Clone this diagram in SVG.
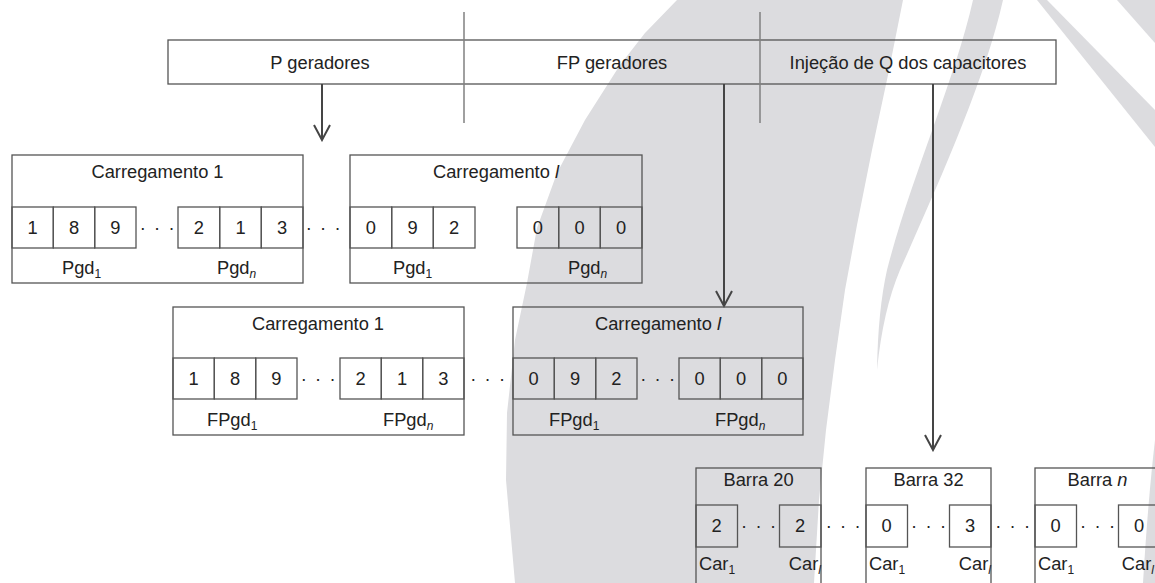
<svg xmlns="http://www.w3.org/2000/svg" width="1155" height="583" viewBox="0 0 1155 583">
  <style>
    .bg { fill: #dcdcdf; stroke: none; }
    .bx { fill: none; stroke: #555; stroke-width: 1.3; }
    .dv { stroke: #808080; stroke-width: 1.5; }
    .ar { fill: none; stroke: #454545; stroke-width: 2; marker-end: url(#v); }
    text { font-family: "Liberation Sans", Arial, sans-serif; font-size: 18.3px; fill: #222; }
    .c { text-anchor: middle; }
    .e { text-anchor: end; }
    .dots { letter-spacing: 1.65px; }
    .sub { font-size: 12px; }
    .it { font-style: italic; }
  </style>
  <defs>
    <marker id="v" viewBox="-17 -10 19 20" refX="0" refY="0" markerWidth="19" markerHeight="20" orient="auto" markerUnits="userSpaceOnUse">
      <path d="M-15,-8 L0,0 L-15,8" fill="none" stroke="#454545" stroke-width="2"/>
    </marker>
  </defs>

  <rect width="1155" height="583" fill="#fff"/>

  <!-- background swooshes -->
  <g id="background">
    <path class="bg" d="M677,0 L903,0 L888,75 L872,150 L857,225 L845,290 L835,360 L826,430 L819,500 L814,583 L515,583 L506,480 L507,413 L515,340 L527,283 L537,228 L557,173 L585,120 L620,65 L645,33 Z"/>
    <path class="bg" d="M973,0 L1003,0 C985,80 940,180 900,270 Q883,310 877,370 Q878,310 887,270 C910,180 955,80 973,0 Z"/>
    <path class="bg" d="M1037,0 L1047,0 L1155,110 L1155,147 Z"/>
    <path class="bg" d="M1117,0 L1155,0 L1155,43 Z"/>
    <path class="bg" d="M1155,440 L1155,583 L1143,583 Q1148,500 1155,440 Z"/>
  </g>

  <!-- header bar with the three variable groups -->
  <g id="header">
    <rect class="bx" x="168" y="40" width="888" height="44"/>
    <line class="dv" x1="464" y1="12" x2="464" y2="123"/>
    <line class="dv" x1="760" y1="12" x2="760" y2="123"/>
    <text class="c" x="320" y="69">P geradores</text>
    <text class="c" x="612" y="69">FP geradores</text>
    <text class="c" x="908" y="69">Injeção de Q dos capacitores</text>
  </g>

  <!-- connectors -->
  <g id="connectors">
    <line class="ar" x1="322" y1="84" x2="322" y2="140"/>
    <line class="ar" x1="724" y1="84" x2="724" y2="306"/>
    <line class="ar" x1="933" y1="84" x2="933" y2="450"/>
  </g>

  <!-- P generators, loading 1 -->
  <g id="p-carregamento-1">
    <rect class="bx" x="12" y="155" width="291" height="128"/>
    <rect class="bx" x="12" y="207" width="41.3" height="41"/>
    <rect class="bx" x="53.3" y="207" width="41.4" height="41"/>
    <rect class="bx" x="94.7" y="207" width="41.3" height="41"/>
    <rect class="bx" x="178" y="207" width="41.7" height="41"/>
    <rect class="bx" x="219.7" y="207" width="41.6" height="41"/>
    <rect class="bx" x="261.3" y="207" width="41.7" height="41"/>
    <text class="c" x="157.5" y="178">Carregamento 1</text>
    <text class="c" x="32.7" y="234">1</text>
    <text class="c" x="74" y="234">8</text>
    <text class="c" x="115.3" y="234">9</text>
    <text class="c dots" x="158" y="234">· · ·</text>
    <text class="c" x="198.8" y="234">2</text>
    <text class="c" x="240.5" y="234">1</text>
    <text class="c" x="282.2" y="234">3</text>
    <text x="62" y="274">Pgd<tspan class="sub" dy="4">1</tspan></text>
    <text x="217" y="274">Pgd<tspan class="sub it" dy="4">n</tspan></text>
  </g>
  <text class="c dots" x="324" y="234">· · ·</text>

  <!-- P generators, loading l -->
  <g id="p-carregamento-l">
    <rect class="bx" x="350" y="155" width="292" height="128"/>
    <rect class="bx" x="350" y="207" width="41.7" height="41"/>
    <rect class="bx" x="391.7" y="207" width="41.6" height="41"/>
    <rect class="bx" x="433.3" y="207" width="41.7" height="41"/>
    <rect class="bx" x="517" y="207" width="41.7" height="41"/>
    <rect class="bx" x="558.7" y="207" width="41.6" height="41"/>
    <rect class="bx" x="600.3" y="207" width="41.7" height="41"/>
    <text class="c" x="496" y="178">Carregamento <tspan class="it">l</tspan></text>
    <text class="c" x="370.8" y="234">0</text>
    <text class="c" x="412.5" y="234">9</text>
    <text class="c" x="454.2" y="234">2</text>
    <text class="c" x="537.8" y="234">0</text>
    <text class="c" x="579.5" y="234">0</text>
    <text class="c" x="621.2" y="234">0</text>
    <text x="393" y="274">Pgd<tspan class="sub" dy="4">1</tspan></text>
    <text x="568" y="274">Pgd<tspan class="sub it" dy="4">n</tspan></text>
  </g>

  <!-- FP generators, loading 1 -->
  <g id="fp-carregamento-1">
    <rect class="bx" x="173" y="307" width="291" height="128"/>
    <rect class="bx" x="173" y="358" width="41.3" height="41"/>
    <rect class="bx" x="214.3" y="358" width="41.4" height="41"/>
    <rect class="bx" x="255.7" y="358" width="41.3" height="41"/>
    <rect class="bx" x="340" y="358" width="41.3" height="41"/>
    <rect class="bx" x="381.3" y="358" width="41.4" height="41"/>
    <rect class="bx" x="422.7" y="358" width="41.3" height="41"/>
    <text class="c" x="318" y="330">Carregamento 1</text>
    <text class="c" x="193.7" y="385">1</text>
    <text class="c" x="235" y="385">8</text>
    <text class="c" x="276.3" y="385">9</text>
    <text class="c dots" x="319" y="385">· · ·</text>
    <text class="c" x="360.7" y="385">2</text>
    <text class="c" x="402" y="385">1</text>
    <text class="c" x="443.3" y="385">3</text>
    <text x="207" y="426">FPgd<tspan class="sub" dy="4">1</tspan></text>
    <text x="383" y="426">FPgd<tspan class="sub it" dy="4">n</tspan></text>
  </g>
  <text class="c dots" x="488.5" y="385">· · ·</text>

  <!-- FP generators, loading l -->
  <g id="fp-carregamento-l">
    <rect class="bx" x="513" y="307" width="290" height="128"/>
    <rect class="bx" x="513" y="358" width="41.3" height="41"/>
    <rect class="bx" x="554.3" y="358" width="41.4" height="41"/>
    <rect class="bx" x="595.7" y="358" width="41.3" height="41"/>
    <rect class="bx" x="679" y="358" width="41.3" height="41"/>
    <rect class="bx" x="720.3" y="358" width="41.4" height="41"/>
    <rect class="bx" x="761.7" y="358" width="41.3" height="41"/>
    <text class="c" x="658" y="330">Carregamento <tspan class="it">l</tspan></text>
    <text class="c" x="533.7" y="385">0</text>
    <text class="c" x="575" y="385">9</text>
    <text class="c" x="616.3" y="385">2</text>
    <text class="c dots" x="658.5" y="385">· · ·</text>
    <text class="c" x="699.7" y="385">0</text>
    <text class="c" x="741" y="385">0</text>
    <text class="c" x="782.3" y="385">0</text>
    <text x="549" y="426">FPgd<tspan class="sub" dy="4">1</tspan></text>
    <text x="715" y="426">FPgd<tspan class="sub it" dy="4">n</tspan></text>
  </g>

  <!-- capacitor buses -->
  <g id="barra-20">
    <rect class="bx" x="696" y="468" width="125" height="130"/>
    <rect class="bx" x="696" y="505" width="41.5" height="42"/>
    <rect class="bx" x="779.5" y="505" width="41.5" height="42"/>
    <text class="c" x="758.5" y="486">Barra 20</text>
    <text class="c" x="716.7" y="532">2</text>
    <text class="c dots" x="759.3" y="532">· · ·</text>
    <text class="c" x="800.2" y="532">2</text>
    <text x="699" y="570">Car<tspan class="sub" dy="4">1</tspan></text>
    <text class="e" x="821" y="570">Car<tspan class="sub it" dy="4">l</tspan></text>
  </g>
  <text class="c dots" x="844" y="532">· · ·</text>

  <g id="barra-32">
    <rect class="bx" x="866" y="468" width="125" height="130"/>
    <rect class="bx" x="866" y="505" width="41.5" height="42"/>
    <rect class="bx" x="949.5" y="505" width="41.5" height="42"/>
    <text class="c" x="928.5" y="486">Barra 32</text>
    <text class="c" x="886.7" y="532">0</text>
    <text class="c dots" x="929.3" y="532">· · ·</text>
    <text class="c" x="970.2" y="532">3</text>
    <text x="869" y="570">Car<tspan class="sub" dy="4">1</tspan></text>
    <text class="e" x="991" y="570">Car<tspan class="sub it" dy="4">l</tspan></text>
  </g>
  <text class="c dots" x="1013.5" y="532">· · ·</text>

  <g id="barra-n">
    <rect class="bx" x="1035" y="468" width="125" height="130"/>
    <rect class="bx" x="1035" y="505" width="41.5" height="42"/>
    <rect class="bx" x="1118.5" y="505" width="41.5" height="42"/>
    <text class="c" x="1097.5" y="486">Barra <tspan class="it">n</tspan></text>
    <text class="c" x="1055.7" y="532">0</text>
    <text class="c dots" x="1098.3" y="532">· · ·</text>
    <text class="c" x="1139.2" y="532">0</text>
    <text x="1038" y="570">Car<tspan class="sub" dy="4">1</tspan></text>
    <text class="e" x="1154" y="570">Car<tspan class="sub it" dy="4">l</tspan></text>
  </g>
</svg>
